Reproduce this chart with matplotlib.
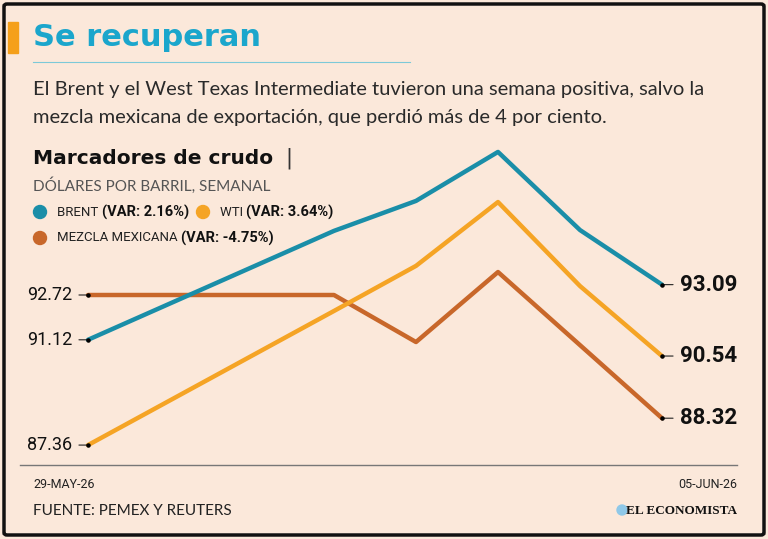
import pandas as pd
import matplotlib.pyplot as plt
from matplotlib.patches import FancyBboxPatch, Rectangle, Ellipse
from matplotlib.lines import Line2D

# data
dates = ['2026-05-29', '2026-06-01', '2026-06-02', '2026-06-03', '2026-06-04', '2026-06-05']
brent = [91.12, 95.01, 96.08, 97.83, 95.04, 93.09]
wti = [87.36, 92.15, 93.76, 96.04, 93.04, 90.54]
mezcla = [92.72, 92.72, 91.04, 93.54, 90.93, 88.32]
series_names = ['BRENT', 'WTI', 'MEZCLA MEXICANA']
var_labels = ['(VAR: 2.16%)', '(VAR: 3.64%)', '(VAR: -4.75%)']
date_labels = ['29-MAY-26', '05-JUN-26']

BG = '#fbe8da'
C_BRENT = '#1a8ea8'
C_WTI = '#f5a425'
C_MEZ = '#c8672a'
NARROW = ['Roboto', 'DejaVu Sans']
LIGHT = ['Lato', 'DejaVu Sans']

W, H = 768, 539
fig = plt.figure(figsize=(W / 100, H / 100), dpi=100)
fig.patch.set_facecolor(BG)


def fx(px):
    return px / W


def fy(py):
    return 1 - py / H


def dot(px, py, d, c):
    fig.patches.append(Ellipse((fx(px), fy(py)), d / W, d / H,
                               transform=fig.transFigure, color=c))


# frame and header
fig.patches.append(FancyBboxPatch((fx(4), fy(535)), fx(760), 531 / H,
                                  boxstyle='round,pad=0,rounding_size=0.004',
                                  transform=fig.transFigure, fill=False,
                                  lw=2.5, ec='#111111'))
fig.patches.append(Rectangle((fx(8), fy(53)), fx(10), 31 / H, transform=fig.transFigure,
                             color='#f5a01a'))
fig.text(fx(33), fy(38), 'Se recuperan', color='#1ba6cc', fontsize=22,
         fontweight='bold', va='center')
fig.lines.append(Line2D([fx(33), fx(410)], [fy(62), fy(62)], transform=fig.transFigure,
                        color='#7cc9d8', lw=0.8))
fig.text(fx(33), fy(90), 'El Brent y el West Texas Intermediate tuvieron una semana positiva, salvo la',
         fontsize=14.5, family=LIGHT, color='#2a2a2a', va='center')
fig.text(fx(33), fy(117), 'mezcla mexicana de exportación, que perdió más de 4 por ciento.',
         fontsize=14.5, family=LIGHT, color='#2a2a2a', va='center')
fig.text(fx(33), fy(158), 'Marcadores de crudo', fontsize=14.5, fontweight='bold',
         color='#111111', va='center')
fig.text(fx(285), fy(158), '|', fontsize=15, color='#333333', va='center')
fig.text(fx(33), fy(186), 'DÓLARES POR BARRIL, SEMANAL', fontsize=11, family=LIGHT,
         color='#555555', va='center')

# legend
leg = [(40, 212, C_BRENT, 0), (203, 212, C_WTI, 1), (40, 238, C_MEZ, 2)]
for px, py, c, i in leg:
    dot(px, py, 13, c)
    t = fig.text(fx(px + 17), fy(py), series_names[i] + ' ', fontsize=9.5,
                 family=NARROW, color='#222222', va='center')
    fig.canvas.draw()
    bb = t.get_window_extent()
    fig.text(bb.x1 / W, fy(py), var_labels[i], fontsize=10.5, family=NARROW,
             fontweight='bold', color='#111111', va='center')

# chart
x = pd.to_datetime(dates)
ax = fig.add_axes([fx(88), fy(455), fx(662 - 88), (455 - 150) / H])
ax.set_facecolor('none')
ylo = 92.72 - (455 - 295) / 28.0
yhi = 92.72 + (295 - 150) / 28.0
for vals, c in [(mezcla, C_MEZ), (wti, C_WTI), (brent, C_BRENT)]:
    ax.plot(x, vals, color=c, lw=3.2, solid_capstyle='round', clip_on=False)
    for xi, v, side in [(x[0], vals[0], 'left'), (x[-1], vals[-1], 'right')]:
        ax.scatter([xi], [v], s=5, color='black', zorder=5, clip_on=False)
        if side == 'left':
            ax.annotate(f'{v:.2f}', xy=(xi, v), xytext=(-16, 0), textcoords='offset pixels',
                        ha='right', va='center', fontsize=13, family=NARROW,
                        color='#111111',
                        arrowprops=dict(arrowstyle='-', lw=0.8, color='#222222',
                                        shrinkA=3, shrinkB=0))
        else:
            ax.annotate(f'{v:.2f}', xy=(xi, v), xytext=(18, 0), textcoords='offset pixels',
                        ha='left', va='center', fontsize=16, family=NARROW,
                        fontweight='bold', color='#111111',
                        arrowprops=dict(arrowstyle='-', lw=0.8, color='#222222',
                                        shrinkA=3, shrinkB=0))
ax.set_xlim(x[0], x[-1])
ax.set_ylim(ylo, yhi)
ax.axis('off')

# footer
fig.lines.append(Line2D([fx(20), fx(737)], [fy(465), fy(465)], transform=fig.transFigure,
                        color='#777777', lw=1))
fig.text(fx(33), fy(484), date_labels[0], fontsize=9, family=NARROW, color='#222222',
         va='center')
fig.text(fx(737), fy(484), date_labels[1], fontsize=9, family=NARROW, color='#222222',
         va='center', ha='right')
fig.text(fx(33), fy(511), 'FUENTE: PEMEX Y REUTERS', fontsize=11, family=LIGHT,
         color='#222222', va='center')
dot(622, 510, 10, '#8fc8e8')
fig.text(fx(737), fy(511), 'EL ECONOMISTA', fontsize=9.5, family=['Liberation Serif'],
         fontweight='bold', color='#111111', va='center', ha='right')

fig.savefig('out.png', dpi=100, facecolor=BG)
